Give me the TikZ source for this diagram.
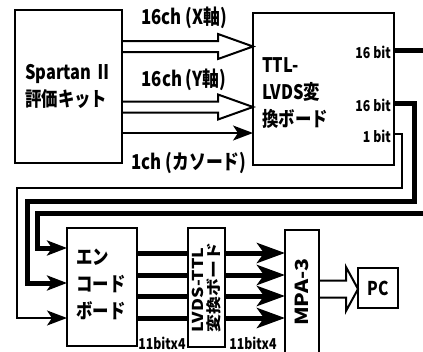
\documentclass[tikz,border=0pt]{standalone}
\usepackage{graphicx}
\usepackage{fontspec}
\setmainfont{Noto Sans CJK JP}[FakeStretch=0.82]
\usetikzlibrary{arrows.meta,calc}
\tikzset{
  box/.style={draw, line width=2.2pt, inner sep=0pt, outer sep=0pt},
  sigline/.style={line width=2pt},
  busline/.style={line width=5pt},
  tipA/.style={-{Stealth[length=20pt,width=15pt,inset=5pt]}},
  tipB/.style={-{Stealth[length=28pt,width=20pt,inset=7pt]}},
  hollow/.style n args={3}{line width=2pt, line join=miter,
    to path={let \p1=(\tikztostart), \p2=(\tikztotarget) in
      (\x1,{\y1+#1}) -- ({\x2-#3},{\y1+#1}) -- ({\x2-#3},{\y1+#2}) -- (\x2,\y1)
      -- ({\x2-#3},{\y1-#2}) -- ({\x2-#3},{\y1-#1}) -- (\x1,{\y1-#1})}},
  big/.style={font=\bfseries\fontsize{20}{27}\selectfont, inner sep=0pt, align=left},
  mid/.style={font=\bfseries\fontsize{20.5}{22}\selectfont, inner sep=0pt},
  small/.style={font=\bfseries\fontsize{15}{16}\selectfont, inner sep=0pt},
}
\begin{document}
\begin{tikzpicture}[x=1pt,y=-1pt]
\useasboundingbox (0,0) rectangle (423,351);
% boxes
\node[box, minimum width=107pt, minimum height=153pt] (spartan) at (68.5,86.5) {};
\node[box, minimum width=141pt, minimum height=152pt] (ttl) at (323.5,89) {};
\node[box, minimum width=70pt, minimum height=118pt] (enc) at (102,287) {};
\node[box, minimum width=37pt, minimum height=119pt] (lvds) at (206.5,287.5) {};
\node[box, minimum width=34pt, minimum height=124pt] (mpa) at (302,292) {};
\node[box, minimum width=40pt, minimum height=40pt] (pc) at (378,288) {};
% box texts
\node[big] (spartantext) at (spartan.center) {Spartan Ⅱ\\評価キット};
\node[big, anchor=west] (ttltext) at (262,93) {TTL-\\LVDS変\\換ボード};
\node[big, anchor=west] (enctext) at (76,284) {エン\\コード\\ボード};
\node[inner sep=0pt, rotate=90, align=left, font=\bfseries\fontsize{15}{16}\selectfont] (lvdstext) at (lvds.center) {\scalebox{1.45}[1]{LVDS-TTL}\\\scalebox{1.45}[1]{変換ボード}};
\node[inner sep=0pt, rotate=90, font=\bfseries\fontsize{18}{20}\selectfont] (mpatext) at (302,292) {\scalebox{1.45}[1]{MPA-3}};
\node[inner sep=0pt, font=\bfseries\fontsize{19}{20}\selectfont] (pctext) at (pc.center) {PC};
% labels
\node[mid] (lx) at (184,18) {16ch (X軸)};
\node[mid] (ly) at (184,80) {16ch (Y軸)};
\node[mid] (lc) at (189,163) {1ch (カソード)};
\node[small, anchor=east] (b1) at (391,52) {16 bit};
\node[small, anchor=east] (b2) at (391,105) {16 bit};
\node[small, anchor=east] (b3) at (391,136) {1 bit};
\node[small] (n1) at (162,343) {11bitx4};
\node[small] (n2) at (253,343) {11bitx4};
% inputs to TTL-LVDS board
\coordinate (ya) at (0,46.5);
\coordinate (yb) at (0,107);
\coordinate (yc) at (0,133);
\draw[hollow={5.5pt}{12.5pt}{35pt}] (spartan.east |- ya) to (ttl.west |- ya);
\draw[hollow={5.5pt}{12.5pt}{35pt}] (spartan.east |- yb) to (ttl.west |- yb);
\draw[sigline, tipA] (spartan.east |- yc) -- (ttl.west |- yc);
% outputs of TTL-LVDS board
\coordinate (o1) at (0,50);
\coordinate (o2) at (0,103);
\coordinate (o3) at (0,134);
\coordinate (edge1) at (423,50);
\coordinate (edge3) at (423,213);
\coordinate (r2) at (414,201);
\coordinate (l2) at (27,283);
\coordinate (r3) at (402,188);
\coordinate (l3) at (17,318);
\coordinate (l1) at (37,248);
\draw[busline] (ttl.east |- o1) -- (edge1);
\draw[busline, tipA] (ttl.east |- o2) -| (r2) -| (l2) -- (enc.west |- l2);
\draw[sigline, tipA] (ttl.east |- o3) -| (r3) -| (l3) -- (enc.west |- l3);
\draw[busline, tipA] (edge3) -| (l1) -- (enc.west |- l1);
% encoder -> LVDS-TTL -> MPA-3
\foreach \i/\y in {1/253,2/275,3/296,4/318}{
  \coordinate (c\i) at (0,\y);
  \draw[busline] (enc.east |- c\i) -- (lvds.west |- c\i);
  \draw[busline, tipB] (lvds.east |- c\i) -- (mpa.west |- c\i);
}
\coordinate (yp) at (0,289);
\draw[hollow={8.5pt}{22pt}{12pt}] (mpa.east |- yp) to (pc.west |- yp);
\end{tikzpicture}
\end{document}
